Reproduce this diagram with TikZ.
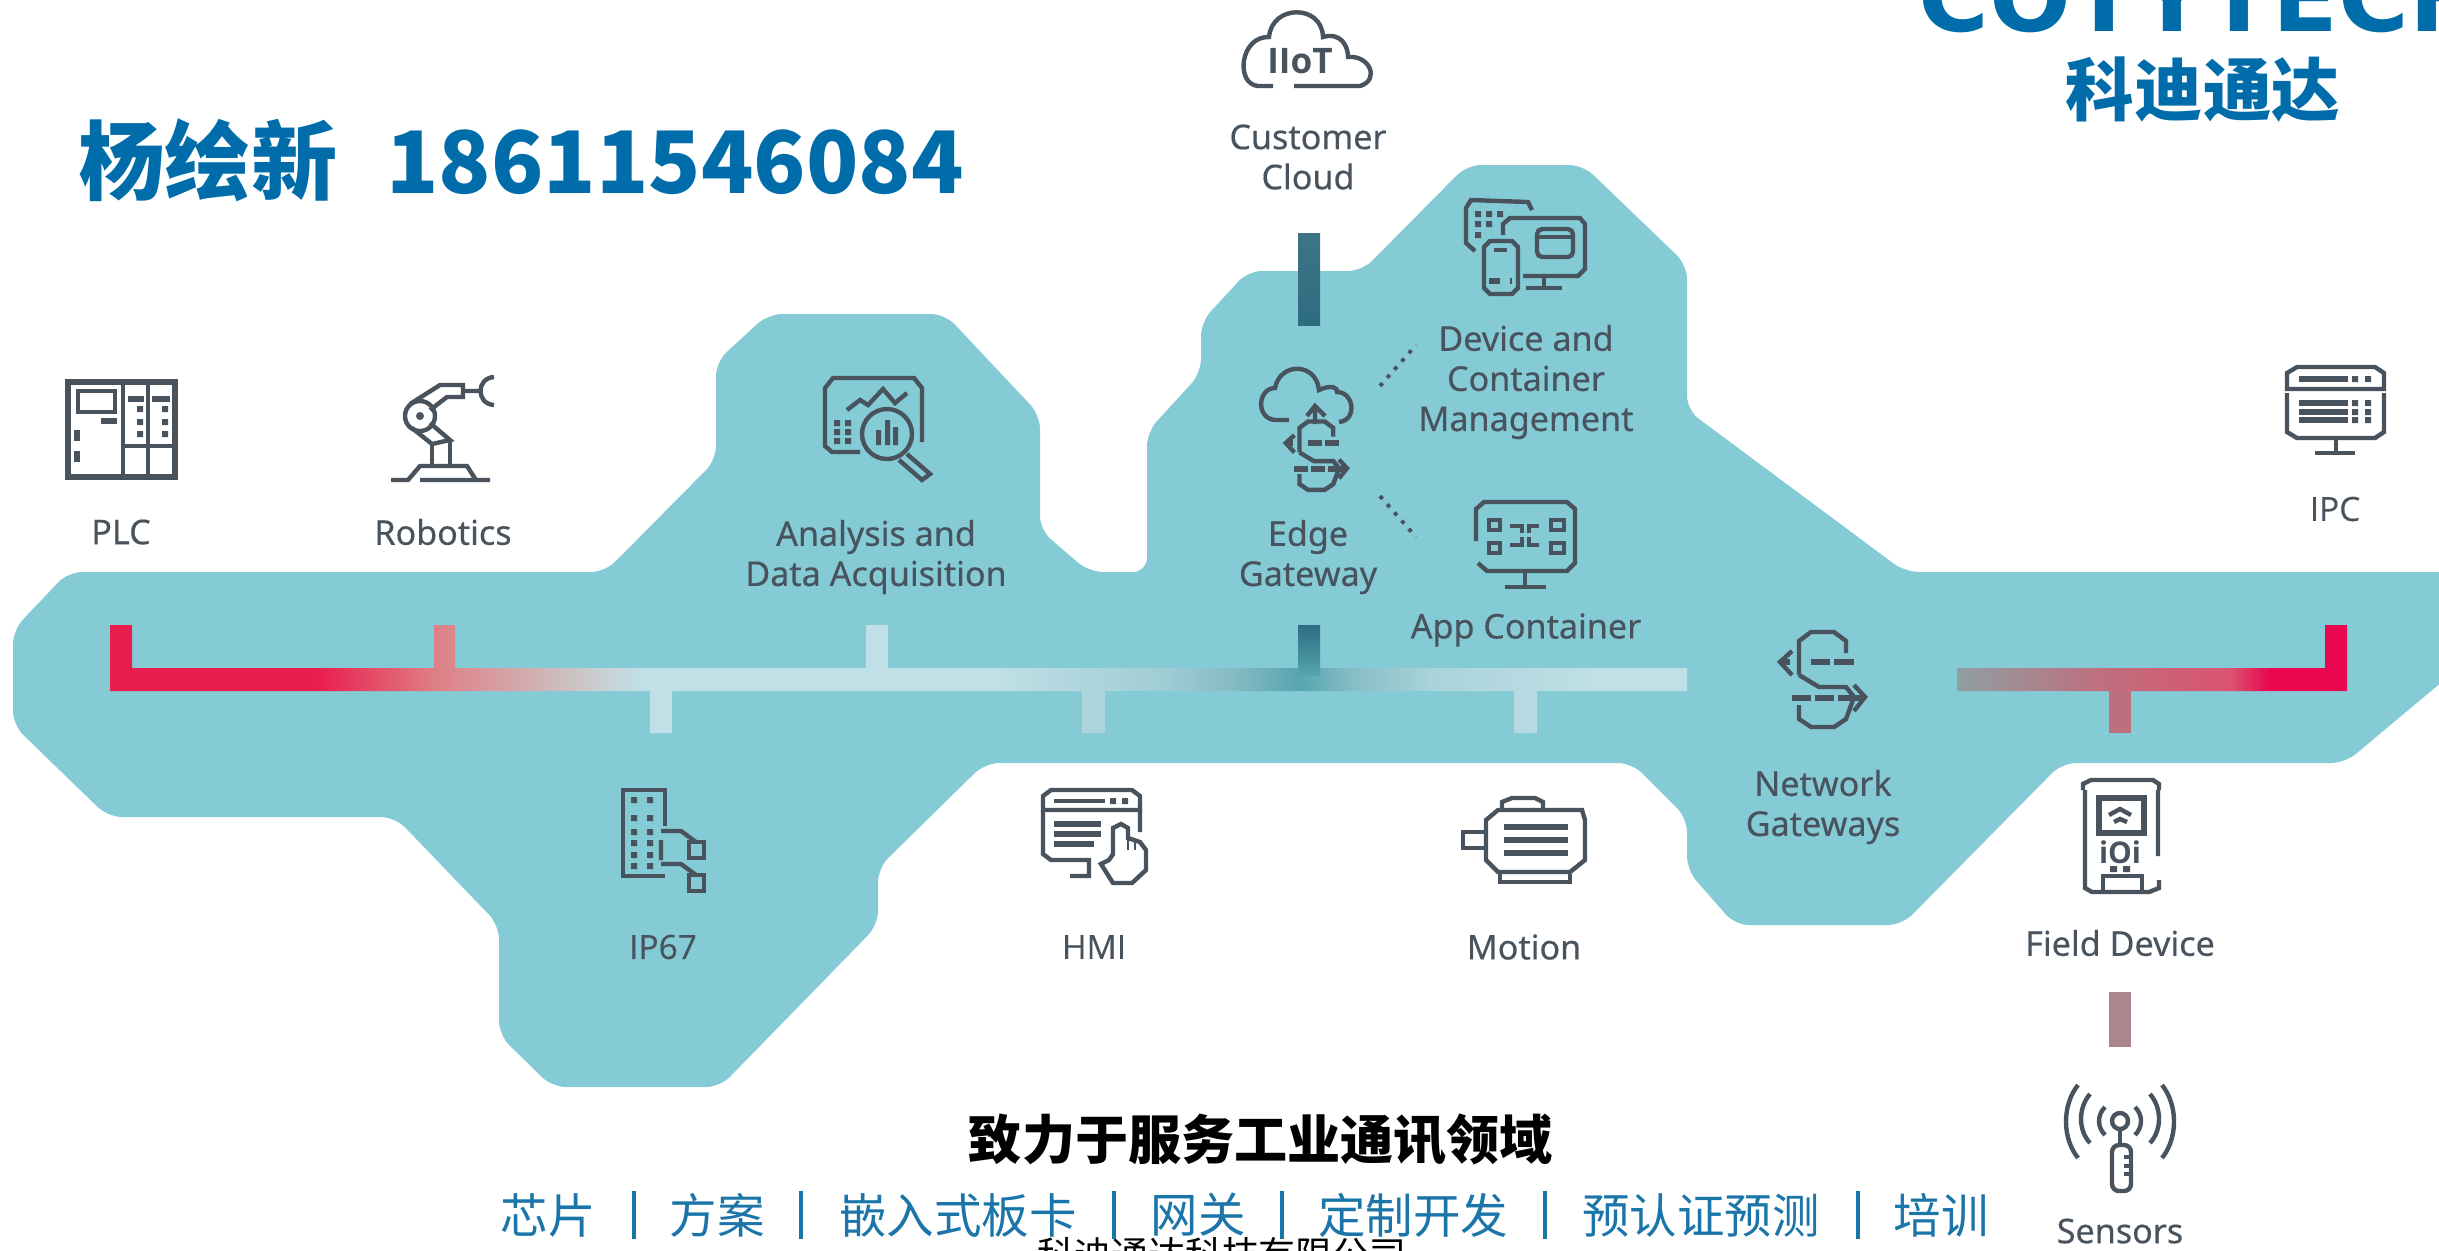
\documentclass[tikz,border=0pt]{standalone}
\usepackage{fontspec}
\setmainfont{Noto Sans}
\newfontfamily\cjk{Noto Sans CJK SC}
\newfontfamily\logofont{DejaVu Sans}
\newfontfamily\lblfont[FakeBold=0.35]{Noto Sans}
\newfontfamily\capsfont[FakeBold=0.25]{Open Sans}
\newfontfamily\iconfont{Open Sans}
\definecolor{blobc}{HTML}{84CBD6}
\definecolor{iconc}{HTML}{48535D}
\definecolor{titlec}{HTML}{006DAA}
\definecolor{rowc}{HTML}{1B75A8}
\definecolor{busa}{HTML}{E91E4E}
\definecolor{busb}{HTML}{DE7F85}
\definecolor{busc}{HTML}{C9CFCF}
\definecolor{busd}{HTML}{BFE0E6}
\definecolor{buse}{HTML}{A0CCD4}
\definecolor{busf}{HTML}{55A5B0}
\definecolor{busk}{HTML}{7FB7BF}
\definecolor{busl}{HTML}{87BDC6}
\definecolor{busm}{HTML}{AAD3DA}
\definecolor{busg}{HTML}{8F9FA2}
\definecolor{bush}{HTML}{BE6F7E}
\definecolor{busi}{HTML}{DC5370}
\definecolor{busj}{HTML}{E9074F}
\definecolor{stubd}{HTML}{2E6C82}
\definecolor{stube}{HTML}{3E7486}
\definecolor{linkc}{HTML}{AD858E}
\pgfdeclarehorizontalshading{busleft}{100bp}{color(0bp)=(busa);color(25bp)=(busa);color(31.6bp)=(busa);color(35.3bp)=(busb);color(40.5bp)=(busc);color(41.8bp)=(busd);color(53bp)=(busd);color(58.5bp)=(buse);color(61bp)=(busk);color(62.7bp)=(busf);color(64.4bp)=(busl);color(66.9bp)=(busm);color(72.2bp)=(busd);color(100bp)=(busd)}
\pgfdeclarehorizontalshading{busright}{100bp}{color(0bp)=(busg);color(25bp)=(busg);color(43.3bp)=(bush);color(60bp)=(busi);color(65bp)=(busj);color(100bp)=(busj)}
\tikzset{
  lbl/.style={text=iconc,align=center,font=\lblfont\fontsize{9.7}{11.4}\selectfont,inner sep=0pt},
  capslbl/.style={lbl,font=\capsfont\fontsize{9.5}{11.4}\selectfont},
  icon/.style={draw=iconc,line width=1.25pt},
  gate/.pic={
    \draw[icon] (-23,-5) -- (-23,-39) -- (-11,-48) -- (12,-48) -- (24,-39) -- (24,-27);
    \draw[icon] (-23,-5) -- (-3,7) -- (24,7) -- (32,17) -- (24,39) -- (12,47) -- (-11,47) -- (-23,39) -- (-23,25);
    \draw[icon] (-30,-29) -- (-42,-18) -- (-30,-5);
    \draw[icon,line width=1.5pt] (-42,-18) -- (-32,-18) (-11,-18) -- (8,-18) (12,-18) -- (32,-18);
    \draw[icon] (32,5) -- (43,17) -- (32,31);
    \draw[icon,line width=1.5pt] (-30,18) -- (-11,18) (-7,18) -- (12,18) (16,18) -- (43,18);
  }
}
\begin{document}
\begin{tikzpicture}[x=0.01cm,y=-0.01cm]
\useasboundingbox (0,0) rectangle (2439,1250);
\clip (0,0) rectangle (2439,1250);
\fill[blobc,rounded corners=4pt] (13,630) -- (68,572) -- (605,572) -- (716,460) -- (716,362) -- (768,314) -- (945,314) -- (1040,415) -- (1040,530) -- (1089,572) -- (1147,572) -- (1147,432) -- (1201,373) -- (1201,322) -- (1248,271) -- (1362,271) -- (1467,165) -- (1583,165) -- (1687,265) -- (1687,410) -- (1905,572) -- (2480,572) -- (2480,650) -- (2345,763) -- (2062,763) -- (1902,925) -- (1735,925) -- (1687,870) -- (1687,818) -- (1632,763) -- (985,763) -- (878,868) -- (878,925) -- (720,1087) -- (552,1087) -- (499,1035) -- (499,925) -- (395,817) -- (108,817) -- (13,725) -- cycle;
% bus
\shade[shading=busleft] (110,625) rectangle (132,691) (110,668) rectangle (1687,691) (434,625) rectangle (455,691) (866,625) rectangle (888,691) (650,668) rectangle (672,733) (1082,668) rectangle (1105,733) (1514,668) rectangle (1537,733);
\shade[top color=stubd,bottom color=busf] (1298,625) rectangle (1320,675);
\shade[shading=busright] (1957,668) rectangle (2347,691) (2325,625) rectangle (2347,691);
\fill[bush] (2109,691) rectangle (2131,733);
\shade[top color=stube,bottom color=stubd] (1298,233) rectangle (1320,325);
\fill[linkc] (2109,992) rectangle (2131,1047);
% title
\draw (78,160) node[anchor=west,text=titlec,inner sep=0pt,font=\cjk\bfseries\fontsize{24.5}{26}\selectfont] (title) {杨绘新\hspace{14pt}18611546084};
\draw (1918,31) node[anchor=base west,text=titlec,inner sep=0pt,font=\logofont\bfseries\fontsize{27.4}{30}\selectfont] (logoen) {COTYTECH};
\draw (2203,90) node[text=titlec,inner sep=0pt,font=\cjk\bfseries\fontsize{19.5}{21}\selectfont] (logocn) {科迪通达};
\draw (1261,1140) node[inner sep=0pt,font=\cjk\bfseries\fontsize{15.1}{17}\selectfont] (slogan) {致力于服务工业通讯领域};
\draw (1222,1254) node[inner sep=0pt,font=\cjk\fontsize{10.5}{12}\selectfont] (company) {科迪通达科技有限公司};
% bottom row
\tikzset{rowt/.style={text=rowc,inner sep=0pt,font=\cjk\fontsize{13.5}{15}\selectfont}}
\draw (548,1215) node[rowt] (rowa) {芯片};
\draw (717,1215) node[rowt] (rowb) {方案};
\draw (958,1215) node[rowt] (rowc) {嵌入式板卡};
\draw (1198,1215) node[rowt] (rowd) {网关};
\draw (1413,1215) node[rowt] (rowe) {定制开发};
\draw (1701,1215) node[rowt] (rowf) {预认证预测};
\draw (1941,1215) node[rowt] (rowg) {培训};
\fill[rowc] (632,1191) rectangle (636,1239);
\fill[rowc] (799,1191) rectangle (803,1239);
\fill[rowc] (1112,1191) rectangle (1116,1239);
\fill[rowc] (1280,1191) rectangle (1284,1239);
\fill[rowc] (1543,1191) rectangle (1547,1239);
\fill[rowc] (1856,1191) rectangle (1860,1239);
% labels
\draw (121,532) node[lbl] (plc) {PLC};
\draw (443,532) node[lbl] (robotics) {Robotics};
\draw (876,557) node[lbl] (analysis) {Analysis and\\Data Acquisition};
\draw (1308,157) node[lbl] (cloud) {Customer\\Cloud};
\draw (1526,382) node[lbl] (device) {Device and\\Container\\Management};
\draw (1308,557) node[lbl] (edge) {Edge\\Gateway};
\draw (1526,630) node[lbl] (app) {App Container};
\draw (2335,509) node[capslbl] (ipc) {IPC};
\draw (1823,807) node[lbl] (network) {Network\\Gateways};
\draw (663,947) node[capslbl] (ipsixseven) {IP67};
\draw (1094,947) node[capslbl] (hmi) {HMI};
\draw (1524,947) node[lbl] (motion) {Motion};
\draw (2120,943) node[lbl] (field) {Field Device};
\draw (2120,1231) node[lbl] (sensors) {Sensors};
% dotted links
\coordinate (dota) at (1380,386);
\coordinate (dotb) at (1416,345);
\coordinate (dotc) at (1380,496);
\coordinate (dotd) at (1416,537);
\draw[iconc,line width=1.1pt,dotted] (dota) -- (dotb);
\draw[iconc,line width=1.1pt,dotted] (dotc) -- (dotd);
% PLC icon
\draw[icon,line width=1.5pt] (68,382) rectangle (175,477);
\draw[icon] (123,382) -- (123,477) (148,382) -- (148,477) (123,446) -- (175,446);
\draw[icon] (78,391) rectangle (115,412);
\draw[icon,line width=1.6pt] (128,399) -- (144,399) (152,399) -- (170,399) (101,421) -- (117,421);
\draw[icon,line width=1.6pt,dashed] (77,430) -- (77,468);
\fill[iconc] (137,406) rectangle (143,412) (137,419) rectangle (143,425) (137,431) rectangle (143,437);
\fill[iconc] (162,406) rectangle (168,412) (162,419) rectangle (168,425) (162,431) rectangle (168,437);
% robot icon
\draw[icon] (391,480) -- (408,480) -- (420,466) -- (467,466) -- (476,480) -- (490,480) (420,480) -- (475,480);
\draw[icon] (432,466) -- (432,444) (450,466) -- (450,440);
\draw[icon] (420,416) circle [radius=15];
\fill[iconc] (420,416) circle [radius=4];
\draw[icon] (412,428) -- (432,444) -- (450,440) -- (430,423);
\draw[icon] (410,404) -- (440,385) -- (463,385) -- (463,397) -- (447,397) -- (430,410);
\draw[icon] (463,391) -- (479,391) (494,377) .. controls (476,378) and (476,404) .. (494,405);
% analysis icon
\draw[icon] (860,452) -- (832,452) -- (825,446) -- (825,388) -- (833,378) -- (914,378) -- (922,388) -- (922,442);
\draw[icon] (847,410) -- (860,400) -- (868,405) -- (883,389) -- (895,403) -- (907,393);
\fill[iconc] (834,420) rectangle (840,426) (845,420) rectangle (851,426) (834,429) rectangle (840,435) (845,429) rectangle (851,435) (834,438) rectangle (840,444) (845,438) rectangle (851,444);
\draw[icon] (887,434) circle [radius=25];
\fill[iconc] (876,430) rectangle (881,445) (885,420) rectangle (890,445) (893,427) rectangle (898,445);
\draw[icon] (907,454) -- (930,474) -- (922,480) -- (899,460);
% cloud icon
\draw[icon] (1273,86) -- (1258,86) .. controls (1235,84) and (1240,36) .. (1269,37) .. controls (1272,4) and (1322,4) .. (1323,37) .. controls (1340,32) and (1348,45) .. (1348,57) .. controls (1370,55) and (1380,80) .. (1360,86) -- (1294,86);
\draw (1300,61) node[text=iconc,inner sep=0pt,font=\iconfont\bfseries\fontsize{10}{11}\selectfont] (iiot) {IIoT};
% edge icon
\draw[icon] (1289,420) -- (1275,420) .. controls (1255,418) and (1258,388) .. (1275,388) .. controls (1280,362) and (1316,362) .. (1319,390) .. controls (1332,384) and (1338,388) .. (1337,392) .. controls (1354,392) and (1358,420) .. (1339,422);
\draw[icon] (1315,424) -- (1315,406) (1307,416) -- (1315,406) -- (1325,416);
\path (1316,456) pic[scale=0.72] {gate};
% device icon
\draw[icon] (1503,235) -- (1503,224) -- (1510,218) -- (1580,218) -- (1585,224) -- (1585,269) -- (1578,276) -- (1523,276);
\draw[icon] (1544,276) -- (1544,288) (1526,288) -- (1562,288);
\draw[icon,rounded corners=1.5pt] (1537,229) rectangle (1573,257);
\draw[icon] (1537,237) -- (1573,237);
\draw[icon] (1532,210) -- (1528,202) -- (1471,200) -- (1466,208) -- (1466,243) -- (1475,251);
\fill[iconc] (1475,211) rectangle (1481,217) (1486,211) rectangle (1492,217) (1497,211) rectangle (1503,217) (1475,221) rectangle (1481,227) (1486,221) rectangle (1492,227) (1475,232) rectangle (1481,238);
\draw[icon] (1490,241) -- (1512,241) -- (1518,247) -- (1518,288) -- (1512,294) -- (1490,294) -- (1484,288) -- (1484,247) -- cycle;
\draw[icon] (1494,250) -- (1507,250);
\draw[icon,line width=1.6pt,dashed] (1489,281) -- (1512,281);
% app icon
\draw[icon] (1476,541) -- (1476,509) -- (1484,502) -- (1567,502) -- (1575,509) -- (1575,563) -- (1567,571) -- (1487,571) -- (1478,563);
\draw[icon] (1525,571) -- (1525,587) (1505,587) -- (1546,587);
\draw[icon] (1489,520) rectangle (1500,530) (1551,520) rectangle (1564,530) (1489,543) rectangle (1500,553) (1551,543) rectangle (1564,553);
\draw[icon] (1510,526) -- (1522,526) -- (1522,533) (1539,526) -- (1529,526) -- (1529,533) (1510,545) -- (1522,545) -- (1522,537) (1539,545) -- (1529,545) -- (1529,537);
% ipc icon
\draw[icon] (2287,389) -- (2287,373) -- (2297,367) -- (2375,367) -- (2384,373) -- (2384,389) -- cycle;
\draw[icon] (2287,393) -- (2287,432) -- (2297,438) -- (2375,438) -- (2384,432) -- (2384,393);
\draw[icon] (2336,438) -- (2336,453) (2315,453) -- (2355,453);
\draw[icon,line width=1.5pt] (2299,379) -- (2348,379) (2299,403) -- (2348,403) (2299,412) -- (2348,412) (2299,420) -- (2348,420);
\fill[iconc] (2352,376) rectangle (2358,382) (2365,376) rectangle (2371,382) (2352,400) rectangle (2358,406) (2365,400) rectangle (2371,406) (2352,409) rectangle (2358,415) (2365,409) rectangle (2371,415) (2352,417) rectangle (2358,423) (2365,417) rectangle (2371,423);
% gateway icon
\path (1822,680) pic {gate};
% ip67 icon
\draw[icon] (665,826) -- (665,790) -- (623,790) -- (623,876) -- (665,876);
\fill[iconc] (631,797) rectangle (637,803) (647,797) rectangle (653,803) (631,815) rectangle (637,821) (647,815) rectangle (653,821) (631,829) rectangle (637,835) (647,829) rectangle (653,835) (631,840) rectangle (637,846) (647,840) rectangle (653,846) (631,852) rectangle (637,858) (647,852) rectangle (653,858) (631,863) rectangle (637,869) (647,863) rectangle (653,869);
\draw[icon] (661,831) -- (681,831) -- (696,842) (661,864) -- (681,864) -- (696,875) (661,840) -- (661,860);
\draw[icon] (689,842) rectangle (704,858) (689,875) rectangle (704,891);
% hmi icon
\draw[icon] (1043,810) -- (1043,796) -- (1051,790) -- (1132,790) -- (1140,796) -- (1140,810) -- cycle;
\draw[icon] (1140,810) -- (1140,832) (1043,810) -- (1043,854) -- (1051,860) -- (1089,860) -- (1089,876) -- (1070,876);
\draw[icon] (1054,801) -- (1105,801);
\fill[iconc] (1110,798) rectangle (1116,804) (1122,798) rectangle (1128,804);
\draw[icon,line width=1.8pt] (1054,824) -- (1101,824) (1054,834) -- (1101,834) (1054,844) -- (1094,844);
\draw[icon] (1113,854) -- (1113,828) -- (1121,824) -- (1128,828) -- (1128,838) -- (1140,842) -- (1146,850) -- (1146,870) -- (1132,883) -- (1113,883) -- (1101,864) -- (1109,860) -- cycle;
\draw[icon,line width=0.8pt] (1128,838) -- (1128,850) (1135,840) -- (1135,850);
% motion icon
\draw[icon] (1498,810) -- (1582,810) -- (1585,820) -- (1585,860) -- (1570,872) -- (1498,872) -- (1486,860) -- (1486,820) -- cycle;
\draw[icon] (1502,808) -- (1502,802) -- (1512,798) -- (1535,798) -- (1543,802) -- (1543,808);
\draw[icon] (1500,874) -- (1500,882) -- (1570,882) -- (1570,874);
\draw[icon] (1484,832) -- (1463,832) -- (1463,848) -- (1484,848);
\draw[icon,line width=1.8pt] (1504,827) -- (1568,827) (1504,840) -- (1568,840) (1504,853) -- (1568,853);
% field device icon
\draw[icon] (2083,790) -- (2083,784) -- (2091,780) -- (2153,780) -- (2159,784) -- (2159,790);
\draw[icon] (2085,790) -- (2085,888) -- (2092,892) -- (2149,892) -- (2159,888) -- (2159,880) (2158,790) -- (2158,856);
\draw[icon,line width=1.5pt] (2099,798) rectangle (2144,833);
\draw[icon] (2109,815) -- (2120,809) -- (2131,815) (2114,822) -- (2120,819) -- (2127,822);
\draw (2120,852) node[text=iconc,inner sep=0pt,font=\iconfont\bfseries\fontsize{8.5}{9}\selectfont] (iOi) {iOi};
\fill[iconc] (2110,866) rectangle (2117,872) (2123,866) rectangle (2130,872);
\draw[icon] (2103,890) -- (2103,876) -- (2142,876) -- (2142,890);
% sensor icon
\draw[icon] (2120,1121) circle [radius=8];
\draw[icon] (2120,1129) -- (2120,1145);
\draw[icon,rounded corners=2pt] (2112,1145) rectangle (2131,1191);
\draw[icon] (2124,1157) -- (2131,1157) (2124,1166) -- (2131,1166) (2124,1174) -- (2131,1174);
\draw[icon] (2078,1085) .. controls (2062,1105) and (2062,1138) .. (2078,1158);
\draw[icon] (2162,1085) .. controls (2178,1105) and (2178,1138) .. (2162,1158);
\draw[icon] (2090,1094) .. controls (2078,1108) and (2078,1130) .. (2090,1143);
\draw[icon] (2150,1094) .. controls (2162,1108) and (2162,1130) .. (2150,1143);
\draw[icon] (2105,1107) .. controls (2097,1115) and (2097,1127) .. (2105,1135);
\draw[icon] (2135,1107) .. controls (2143,1115) and (2143,1127) .. (2135,1135);
\end{tikzpicture}
\end{document}
